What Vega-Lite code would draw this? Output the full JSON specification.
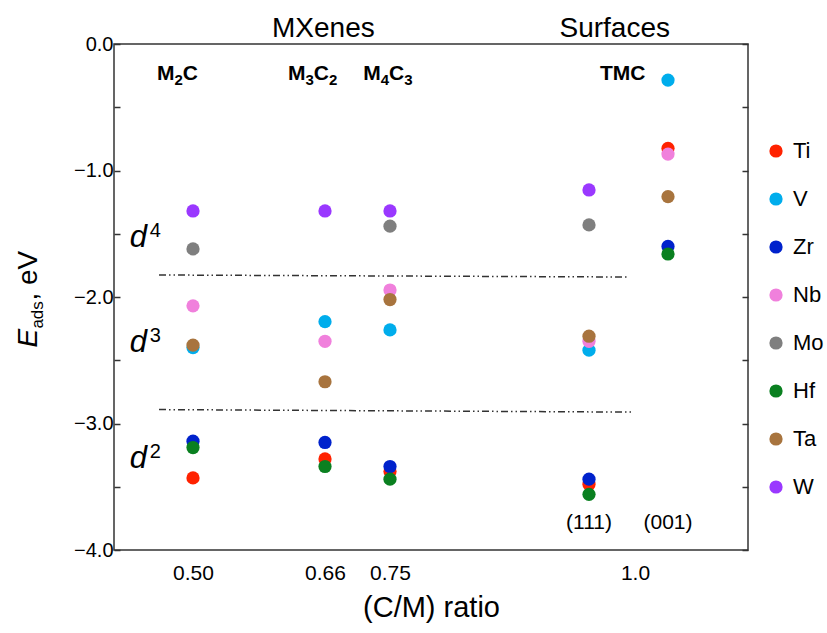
{
  "$schema": "https://vega.github.io/schema/vega-lite/v6.json",
  "width": 634,
  "height": 506,
  "autosize": {"type": "none"},
  "padding": {"left": 114, "top": 44, "right": 79, "bottom": 83},
  "background": "white",
  "config": {
    "view": {"stroke": "#333333", "strokeWidth": 1.5},
    "font": "Liberation Sans",
    "axis": {"labelFont": "Liberation Sans", "titleFont": "Liberation Sans"},
    "legend": {"labelFont": "Liberation Sans"}
  },
  "resolve": {"axis": {"y": "independent"}},
  "datasets": {
    "points": [
      {"site": "M2C", "x": 0.5, "metal": "Ti", "y": -3.43},
      {"site": "M3C2", "x": 0.66, "metal": "Ti", "y": -3.28},
      {"site": "M4C3", "x": 0.75, "metal": "Ti", "y": -3.38},
      {"site": "TMC(111)", "x": 0.95, "metal": "Ti", "y": -3.48},
      {"site": "TMC(001)", "x": 1.05, "metal": "Ti", "y": -0.825},
      {"site": "M2C", "x": 0.5, "metal": "V", "y": -2.4},
      {"site": "M3C2", "x": 0.66, "metal": "V", "y": -2.195},
      {"site": "M4C3", "x": 0.75, "metal": "V", "y": -2.26},
      {"site": "TMC(111)", "x": 0.95, "metal": "V", "y": -2.42},
      {"site": "TMC(001)", "x": 1.05, "metal": "V", "y": -0.285},
      {"site": "M2C", "x": 0.5, "metal": "Zr", "y": -3.14},
      {"site": "M3C2", "x": 0.66, "metal": "Zr", "y": -3.15},
      {"site": "M4C3", "x": 0.75, "metal": "Zr", "y": -3.34},
      {"site": "TMC(111)", "x": 0.95, "metal": "Zr", "y": -3.44},
      {"site": "TMC(001)", "x": 1.05, "metal": "Zr", "y": -1.6},
      {"site": "M2C", "x": 0.5, "metal": "Nb", "y": -2.07},
      {"site": "M3C2", "x": 0.66, "metal": "Nb", "y": -2.35},
      {"site": "M4C3", "x": 0.75, "metal": "Nb", "y": -1.945},
      {"site": "TMC(111)", "x": 0.95, "metal": "Nb", "y": -2.35},
      {"site": "TMC(001)", "x": 1.05, "metal": "Nb", "y": -0.87},
      {"site": "M2C", "x": 0.5, "metal": "Mo", "y": -1.62},
      {"site": "M4C3", "x": 0.75, "metal": "Mo", "y": -1.44},
      {"site": "TMC(111)", "x": 0.95, "metal": "Mo", "y": -1.43},
      {"site": "M2C", "x": 0.5, "metal": "Hf", "y": -3.19},
      {"site": "M3C2", "x": 0.66, "metal": "Hf", "y": -3.34},
      {"site": "M4C3", "x": 0.75, "metal": "Hf", "y": -3.44},
      {"site": "TMC(111)", "x": 0.95, "metal": "Hf", "y": -3.56},
      {"site": "TMC(001)", "x": 1.05, "metal": "Hf", "y": -1.66},
      {"site": "M2C", "x": 0.5, "metal": "Ta", "y": -2.38},
      {"site": "M3C2", "x": 0.66, "metal": "Ta", "y": -2.67},
      {"site": "M4C3", "x": 0.75, "metal": "Ta", "y": -2.02},
      {"site": "TMC(111)", "x": 0.95, "metal": "Ta", "y": -2.31},
      {"site": "TMC(001)", "x": 1.05, "metal": "Ta", "y": -1.207},
      {"site": "M2C", "x": 0.5, "metal": "W", "y": -1.32},
      {"site": "M3C2", "x": 0.66, "metal": "W", "y": -1.32},
      {"site": "M4C3", "x": 0.75, "metal": "W", "y": -1.32},
      {"site": "TMC(111)", "x": 0.95, "metal": "W", "y": -1.154}
    ],
    "lines": [
      {"x": 0.457, "x2": 0.991, "y": -1.826, "y2": -1.842},
      {"x": 0.457, "x2": 0.998, "y": -2.89, "y2": -2.91}
    ],
    "columns": [
      {"x": 0.4544, "y": -0.285, "a": "M", "s1": "2", "b": "C", "s2": ""},
      {"x": 0.615, "y": -0.285, "a": "M", "s1": "3", "b": "C", "s2": "2"},
      {"x": 0.713, "y": -0.285, "a": "M", "s1": "4", "b": "C", "s2": "3"},
      {"x": 0.962, "y": -0.285, "a": "TMC", "s1": "", "b": "", "s2": ""}
    ],
    "headers": [
      {"x": 0.658, "y": 0, "t": "MXenes"},
      {"x": 0.978, "y": 0, "t": "Surfaces"}
    ],
    "facets": [
      {"x": 0.95, "y": -3.79, "t": "(111)"},
      {"x": 1.05, "y": -3.79, "t": "(001)"}
    ],
    "dlabels": [
      {"x": 0.42, "y": -1.605, "d": "d", "sup": "4"},
      {"x": 0.42, "y": -2.435, "d": "d", "sup": "3"},
      {"x": 0.42, "y": -3.35, "d": "d", "sup": "2"}
    ],
    "ytitle": [
      {"x": 0.4, "y": -2.4, "e": "E", "sub": "ads", "rest": ", eV"}
    ]
  },
  "layer": [
    {
      "data": {"name": "points"},
      "mark": {"type": "circle", "size": 175, "opacity": 1},
      "encoding": {
        "x": {"field": "x", "type": "quantitative",
              "scale": {"type": "linear", "domain": [0.4, 0.5, 0.66, 0.75, 0.95, 1.0, 1.05, 1.2], "range": [0, 79, 211, 276, 475, 521, 554, 634], "nice": false, "zero": false},
              "axis": {"orient": "bottom", "values": [0.5, 0.66, 0.75, 1.0], "labelExpr": "datum.value == 1 ? '1.0' : format(datum.value, '.2f')",
                       "ticks": false, "domain": false, "grid": false, "labelFontSize": 21, "labelPadding": 12, "labelColor": "#000000",
                       "labelOverlap": false, "labelFlush": false,
                       "title": "(C/M) ratio", "titleFontSize": 29, "titleFontWeight": "normal", "titleColor": "#000000", "titlePadding": 10}},
        "y": {"field": "y", "type": "quantitative",
              "scale": {"domain": [-4, 0], "nice": false, "zero": false},
              "axis": {"values": [-4, -3.5, -3, -2.5, -2, -1.5, -1, -0.5, 0],
                       "labelExpr": "datum.value % 1 === 0 ? format(datum.value, '.1f') : ''",
                       "tickSize": -6, "tickColor": "#333333", "tickWidth": 1.5, "domain": false, "grid": false,
                       "labelFontSize": 20, "labelPadding": 7, "labelColor": "#000000", "title": null}},
        "color": {"field": "metal", "type": "nominal",
                  "scale": {"domain": ["Ti", "V", "Zr", "Nb", "Mo", "Hf", "Ta", "W"],
                            "range": ["#ff2200", "#00adec", "#0022cc", "#f080dc", "#7f7f7f", "#0a8020", "#a8743e", "#9a38ff"]},
                  "legend": {"orient": "none", "legendX": 651, "legendY": 96, "title": null, "labelFontSize": 22, "labelColor": "#000000",
                             "symbolSize": 175, "symbolType": "circle", "symbolStrokeWidth": 0, "rowPadding": 26, "labelOffset": 6}}
      }
    },
    {
      "data": {"name": "lines"},
      "mark": {"type": "rule", "stroke": "#333333", "strokeWidth": 1.5, "strokeDash": [7, 3, 1.5, 3, 1.5, 3]},
      "encoding": {
        "x": {"field": "x", "type": "quantitative"},
        "x2": {"field": "x2"},
        "y": {"field": "y", "type": "quantitative",
              "axis": {"orient": "right", "labels": false, "title": null, "domain": false, "grid": false,
                       "values": [-4, -3.5, -3, -2.5, -2, -1.5, -1, -0.5, 0], "tickSize": -6, "tickColor": "#333333", "tickWidth": 1.5}},
        "y2": {"field": "y2"}
      }
    },
    {
      "data": {"name": "columns"},
      "mark": {"type": "text", "fontSize": 21, "fontWeight": "bold", "align": "left", "baseline": "alphabetic", "color": "#000000"},
      "encoding": {
        "x": {"field": "x", "type": "quantitative"},
        "y": {"field": "y", "type": "quantitative", "axis": null},
        "text": {"field": "a"}
      }
    },
    {
      "data": {"name": "columns"},
      "mark": {"type": "text", "fontSize": 15, "fontWeight": "bold", "align": "left", "baseline": "alphabetic", "dx": 17.5, "dy": 5, "color": "#000000"},
      "encoding": {
        "x": {"field": "x", "type": "quantitative"},
        "y": {"field": "y", "type": "quantitative", "axis": null},
        "text": {"field": "s1"}
      }
    },
    {
      "data": {"name": "columns"},
      "mark": {"type": "text", "fontSize": 21, "fontWeight": "bold", "align": "left", "baseline": "alphabetic", "dx": 25.8, "color": "#000000"},
      "encoding": {
        "x": {"field": "x", "type": "quantitative"},
        "y": {"field": "y", "type": "quantitative", "axis": null},
        "text": {"field": "b"}
      }
    },
    {
      "data": {"name": "columns"},
      "mark": {"type": "text", "fontSize": 15, "fontWeight": "bold", "align": "left", "baseline": "alphabetic", "dx": 41, "dy": 5, "color": "#000000"},
      "encoding": {
        "x": {"field": "x", "type": "quantitative"},
        "y": {"field": "y", "type": "quantitative", "axis": null},
        "text": {"field": "s2"}
      }
    },
    {
      "data": {"name": "headers"},
      "mark": {"type": "text", "fontSize": 28, "align": "center", "baseline": "alphabetic", "dy": -7, "color": "#000000"},
      "encoding": {
        "x": {"field": "x", "type": "quantitative"},
        "y": {"field": "y", "type": "quantitative", "axis": null},
        "text": {"field": "t"}
      }
    },
    {
      "data": {"name": "facets"},
      "mark": {"type": "text", "fontSize": 21, "align": "center", "baseline": "middle", "color": "#000000"},
      "encoding": {
        "x": {"field": "x", "type": "quantitative"},
        "y": {"field": "y", "type": "quantitative", "axis": null},
        "text": {"field": "t"}
      }
    },
    {
      "data": {"name": "dlabels"},
      "mark": {"type": "text", "fontSize": 31, "fontStyle": "italic", "align": "left", "baseline": "alphabetic", "color": "#000000"},
      "encoding": {
        "x": {"field": "x", "type": "quantitative"},
        "y": {"field": "y", "type": "quantitative", "axis": null},
        "text": {"field": "d"}
      }
    },
    {
      "data": {"name": "dlabels"},
      "mark": {"type": "text", "fontSize": 20, "align": "left", "baseline": "alphabetic", "dx": 20, "dy": -10, "color": "#000000"},
      "encoding": {
        "x": {"field": "x", "type": "quantitative"},
        "y": {"field": "y", "type": "quantitative", "axis": null},
        "text": {"field": "sup"}
      }
    },
    {
      "data": {"name": "ytitle"},
      "mark": {"type": "text", "fontSize": 28, "fontStyle": "italic", "angle": 270, "align": "left", "baseline": "alphabetic", "dy": -77, "color": "#000000"},
      "encoding": {
        "x": {"field": "x", "type": "quantitative"},
        "y": {"field": "y", "type": "quantitative", "axis": null},
        "text": {"field": "e"}
      }
    },
    {
      "data": {"name": "ytitle"},
      "mark": {"type": "text", "fontSize": 17, "angle": 270, "align": "left", "baseline": "alphabetic", "dx": 19, "dy": -71, "color": "#000000"},
      "encoding": {
        "x": {"field": "x", "type": "quantitative"},
        "y": {"field": "y", "type": "quantitative", "axis": null},
        "text": {"field": "sub"}
      }
    },
    {
      "data": {"name": "ytitle"},
      "mark": {"type": "text", "fontSize": 28, "angle": 270, "align": "left", "baseline": "alphabetic", "dx": 47, "dy": -77, "color": "#000000"},
      "encoding": {
        "x": {"field": "x", "type": "quantitative"},
        "y": {"field": "y", "type": "quantitative", "axis": null},
        "text": {"field": "rest"}
      }
    }
  ]
}
